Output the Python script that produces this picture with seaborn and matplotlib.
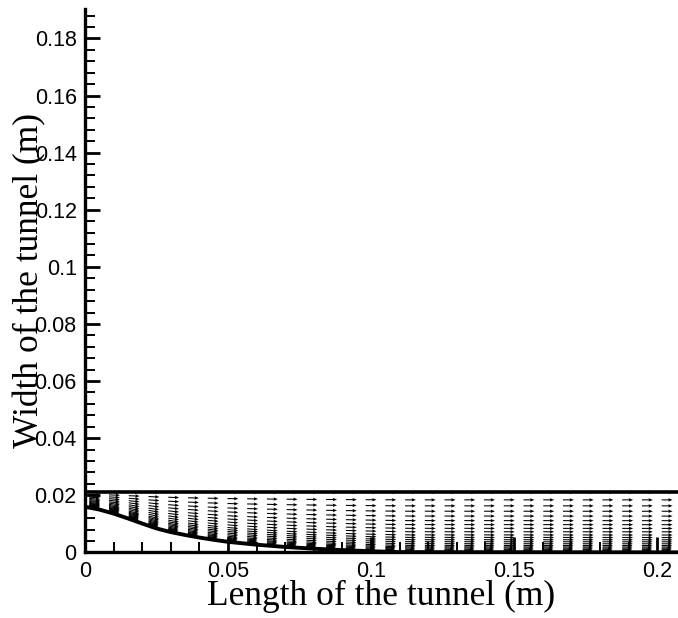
import numpy as np
import matplotlib
matplotlib.use("Agg")
import matplotlib.pyplot as plt
import seaborn as sns
from matplotlib.ticker import FixedLocator, FuncFormatter

# Channel geometry (m)
wall_x = [0.0, 0.005, 0.010, 0.015, 0.020, 0.025, 0.030, 0.035, 0.040, 0.045,
          0.050, 0.060, 0.070, 0.080, 0.090, 0.100, 0.110, 0.2073]
wall_y = [0.0160, 0.0150, 0.0136, 0.0119, 0.0101, 0.0084, 0.0071, 0.0061, 0.0052,
          0.0044, 0.0037, 0.0027, 0.0019, 0.0013, 0.0008, 0.0004, 0.0001, 0.0]
top_y = 0.021

# Grid stations along the tunnel (m)
station_x = [0.0015, 0.0084, 0.0153, 0.0222, 0.0291, 0.0360, 0.0429, 0.0498,
             0.0567, 0.0636, 0.0705, 0.0774, 0.0843, 0.0912, 0.0981, 0.1050,
             0.1119, 0.1188, 0.1257, 0.1326, 0.1395, 0.1464, 0.1533, 0.1602,
             0.1671, 0.1740, 0.1809, 0.1878, 0.1947, 0.2016]

# Normalised grid-line positions between the wall (0) and the top (1)
row_frac = [1.0, 0.876, 0.776, 0.686, 0.605, 0.529, 0.462, 0.400, 0.343, 0.290,
            0.248, 0.210, 0.176, 0.143, 0.114, 0.090, 0.071, 0.052, 0.038,
            0.024, 0.014, 0.005]
# Relative velocity magnitude on each grid line
row_speed = [1.0, 1.0, 1.0, 1.0, 1.0, 1.0, 1.0, 1.0, 1.0, 1.0, 1.0, 0.99,
             0.98, 0.97, 0.96, 0.95, 0.93, 0.91, 0.88, 0.85, 0.80, 0.72]
arrow_ref = 0.0038  # vector length for unit speed (m)

x_ticks = [0, 0.05, 0.1, 0.15, 0.2]
y_ticks = [0, 0.02, 0.04, 0.06, 0.08, 0.1, 0.12, 0.14, 0.16, 0.18]

sns.set_theme(style="white")
plt.rcParams["font.family"] = ["Liberation Sans", "DejaVu Sans"]

fig = plt.figure(figsize=(6.78, 6.18), dpi=100)
ax = fig.add_axes([85 / 678, 1 - 552.4 / 618, 593 / 678, 543.4 / 618])

# Build the vector field on the body-fitted grid
wx = np.asarray(wall_x)
wy = np.asarray(wall_y)
slope = np.gradient(wy, wx)
sx = np.asarray(station_x)
h = np.interp(sx, wx, wy)
s_ang = np.arctan(np.interp(sx, wx, slope))
frac = np.asarray(row_frac)
spd = np.asarray(row_speed)

X = np.repeat(sx[:, None], len(frac), axis=1)
Y = h[:, None] + frac[None, :] * (top_y - h[:, None])
ang = s_ang[:, None] * (1 - frac[None, :])
L = arrow_ref * spd[None, :]
U = L * np.cos(ang)
V = L * np.sin(ang)

ax.quiver(X.ravel(), Y.ravel(), U.ravel(), V.ravel(), angles="xy",
          scale_units="xy", scale=1, color="black", width=0.0018,
          headwidth=3.2, headlength=4.0, headaxislength=3.6, zorder=3,
          clip_on=False)

# Tunnel walls
sns.lineplot(x=wall_x, y=wall_y, ax=ax, color="black", linewidth=2.8,
             sort=False, estimator=None, zorder=4)
sns.lineplot(x=[wall_x[0], wall_x[-1]], y=[top_y, top_y], ax=ax, color="black",
             linewidth=2.6, estimator=None, zorder=4)

ax.set_xlim(0, 0.2073)
ax.set_ylim(0, 0.1903)

for side in ["top", "right"]:
    ax.spines[side].set_visible(False)
for side in ["left", "bottom"]:
    ax.spines[side].set_linewidth(2.4)
    ax.spines[side].set_color("black")

fmt = FuncFormatter(lambda v, p: f"{v:g}")
ax.xaxis.set_major_locator(FixedLocator(x_ticks))
ax.yaxis.set_major_locator(FixedLocator(y_ticks))
ax.xaxis.set_minor_locator(FixedLocator(np.arange(0, 0.2073, 0.01)))
ax.yaxis.set_minor_locator(FixedLocator(np.arange(0, 0.1903, 0.004)))
ax.xaxis.set_major_formatter(fmt)
ax.yaxis.set_major_formatter(fmt)
ax.tick_params(which="major", direction="in", length=11, width=2.0,
               labelsize=15.5, pad=6, color="black", labelcolor="black",
               left=True, bottom=True)
ax.tick_params(which="minor", direction="in", length=7, width=1.4,
               color="black", left=True, bottom=True)

ax.set_xlabel("Length of the tunnel (m)", family="Liberation Serif",
              fontsize=25.5, color="black")
ax.set_ylabel("Width of the tunnel (m)", family="Liberation Serif",
              fontsize=25.5, color="black")
ax.xaxis.set_label_coords(0.5, -0.050)
ax.yaxis.set_label_coords(-0.066, 0.5)
ax.grid(False)

fig.savefig("out.png", dpi=100, facecolor="white")
